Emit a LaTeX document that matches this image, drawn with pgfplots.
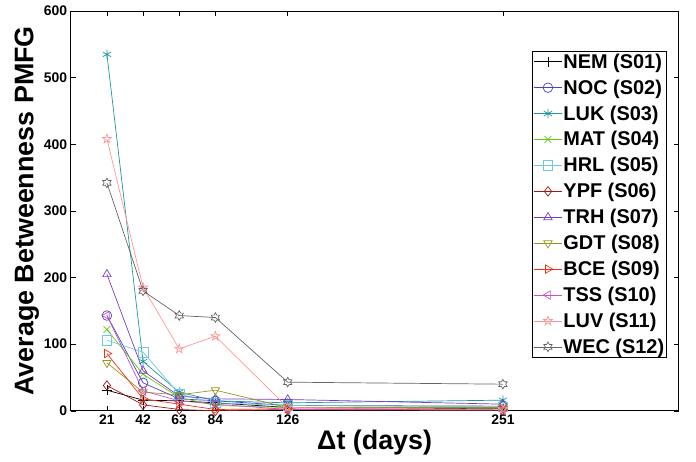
\documentclass[border=0pt]{standalone}
\usepackage{pgfplots}
\pgfplotsset{compat=1.18}
\usepackage{fontspec}
\setmainfont{Liberation Sans}
\definecolor{cNEM}{RGB}{0,0,0}
\definecolor{cNOC}{RGB}{68,68,190}
\definecolor{cLUK}{RGB}{30,150,150}
\definecolor{cMAT}{RGB}{100,200,20}
\definecolor{cHRL}{RGB}{110,200,230}
\definecolor{cYPF}{RGB}{160,20,20}
\definecolor{cTRH}{RGB}{120,60,200}
\definecolor{cGDT}{RGB}{150,150,30}
\definecolor{cBCE}{RGB}{240,50,20}
\definecolor{cTSS}{RGB}{200,80,200}
\definecolor{cLUV}{RGB}{255,150,150}
\definecolor{cWEC}{RGB}{100,100,100}
\pgfdeclareplotmark{pentagram}{%
 \pgfpathmoveto{\pgfpointpolar{90}{\pgfplotmarksize}}%
 \pgfpathlineto{\pgfpointpolar{126}{0.382\pgfplotmarksize}}%
 \pgfpathlineto{\pgfpointpolar{162}{\pgfplotmarksize}}%
 \pgfpathlineto{\pgfpointpolar{198}{0.382\pgfplotmarksize}}%
 \pgfpathlineto{\pgfpointpolar{234}{\pgfplotmarksize}}%
 \pgfpathlineto{\pgfpointpolar{270}{0.382\pgfplotmarksize}}%
 \pgfpathlineto{\pgfpointpolar{306}{\pgfplotmarksize}}%
 \pgfpathlineto{\pgfpointpolar{342}{0.382\pgfplotmarksize}}%
 \pgfpathlineto{\pgfpointpolar{18}{\pgfplotmarksize}}%
 \pgfpathlineto{\pgfpointpolar{54}{0.382\pgfplotmarksize}}%
 \pgfpathclose\pgfusepathqstroke}
\pgfdeclareplotmark{hexagram}{%
 \pgfpathmoveto{\pgfpointpolar{90}{\pgfplotmarksize}}%
 \pgfpathlineto{\pgfpointpolar{120}{0.577\pgfplotmarksize}}%
 \pgfpathlineto{\pgfpointpolar{150}{\pgfplotmarksize}}%
 \pgfpathlineto{\pgfpointpolar{180}{0.577\pgfplotmarksize}}%
 \pgfpathlineto{\pgfpointpolar{210}{\pgfplotmarksize}}%
 \pgfpathlineto{\pgfpointpolar{240}{0.577\pgfplotmarksize}}%
 \pgfpathlineto{\pgfpointpolar{270}{\pgfplotmarksize}}%
 \pgfpathlineto{\pgfpointpolar{300}{0.577\pgfplotmarksize}}%
 \pgfpathlineto{\pgfpointpolar{330}{\pgfplotmarksize}}%
 \pgfpathlineto{\pgfpointpolar{0}{0.577\pgfplotmarksize}}%
 \pgfpathlineto{\pgfpointpolar{30}{\pgfplotmarksize}}%
 \pgfpathlineto{\pgfpointpolar{60}{0.577\pgfplotmarksize}}%
 \pgfpathclose\pgfusepathqstroke}
\begin{document}
\begin{tikzpicture}
\begin{axis}[
 scale only axis,
 width=608bp, height=400bp,
 xmin=0, xmax=353, ymin=0, ymax=600,
 xtick={21,42,63,84,126,251},
 ytick={0,100,200,300,400,500,600},
 tick align=inside,
 major tick length=5bp,
 axis line style={line width=0.9pt},
 every tick/.style={line width=0.6pt, black},
 /pgf/number format/assume math mode=true,
 tick label style={font=\fontsize{14}{16}\selectfont\bfseries},
 xlabel={Δt (days)},
 ylabel={Average Betweenness PMFG},
 label style={font=\fontsize{27}{30}\selectfont\bfseries},
 xlabel style={yshift=1bp},
 ylabel style={yshift=-2bp},
 legend style={at={(0.981,0.9)}, anchor=north east, draw=black, line width=0.6pt, fill=white,
   font=\fontsize{20}{24}\selectfont\bfseries, row sep=8bp, inner sep=1.5bp,
   nodes={inner sep=1bp}},
 legend cell align=left,
 legend image code/.code={\draw[mark repeat=2,mark phase=2] plot coordinates {(0cm,0cm) (0.5cm,0cm) (1.0cm,0cm)};},
 every axis plot/.append style={line width=0.7pt, mark size=4.8bp, mark options={solid, line width=0.7pt, fill=none}},
]
\addplot[color=cNEM, mark=+] coordinates {(21,31) (42,16) (63,15) (84,12) (126,5) (251,3)};
\addlegendentry{NEM (S01)}
\addplot[color=cNOC, mark=o] coordinates {(21,143) (42,42) (63,18) (84,15) (126,8) (251,7)};
\addlegendentry{NOC (S02)}
\addplot[color=cLUK, mark=asterisk] coordinates {(21,535) (42,74) (63,28) (84,15) (126,12) (251,16)};
\addlegendentry{LUK (S03)}
\addplot[color=cMAT, mark=x] coordinates {(21,122) (42,55) (63,20) (84,8) (126,5) (251,4)};
\addlegendentry{MAT (S04)}
\addplot[color=cHRL, mark=square] coordinates {(21,106) (42,88) (63,25) (84,12) (126,8) (251,6)};
\addlegendentry{HRL (S05)}
\addplot[color=cYPF, mark=diamond] coordinates {(21,38) (42,9) (63,2) (84,0) (126,2) (251,1)};
\addlegendentry{YPF (S06)}
\addplot[color=cTRH, mark=triangle] coordinates {(21,205) (42,60) (63,22) (84,18) (126,17) (251,10)};
\addlegendentry{TRH (S07)}
\addplot[color=cGDT, mark=triangle, mark options={rotate=180}] coordinates {(21,72) (42,28) (63,24) (84,31) (126,5) (251,5)};
\addlegendentry{GDT (S08)}
\addplot[color=cBCE, mark=triangle, mark options={rotate=-90}] coordinates {(21,86) (42,18) (63,10) (84,2) (126,3) (251,2)};
\addlegendentry{BCE (S09)}
\addplot[color=cTSS, mark=triangle, mark options={rotate=90}] coordinates {(21,143) (42,30) (63,15) (84,10) (126,2) (251,1)};
\addlegendentry{TSS (S10)}
\addplot[color=cLUV, mark=pentagram] coordinates {(21,408) (42,185) (63,93) (84,112) (126,5) (251,2)};
\addlegendentry{LUV (S11)}
\addplot[color=cWEC, mark=hexagram] coordinates {(21,342) (42,180) (63,143) (84,140) (126,43) (251,40)};
\addlegendentry{WEC (S12)}
\end{axis}
\path ([shift={(-70.8bp,-51bp)}]current axis.south west) rectangle ([shift={(17.5bp,11bp)}]current axis.north east);
\end{tikzpicture}
\end{document}
